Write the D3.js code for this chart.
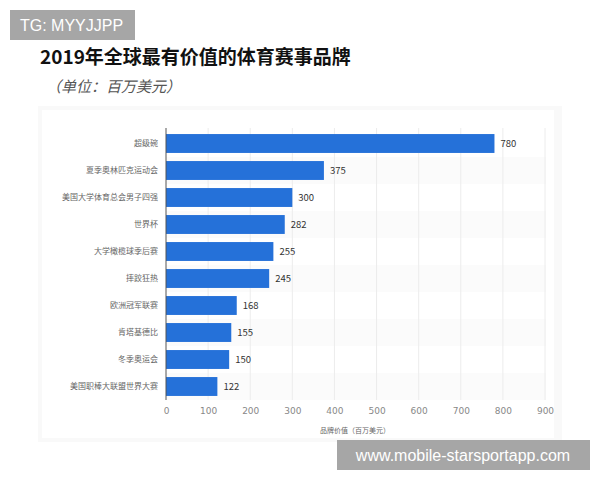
<!DOCTYPE html>
<html>
<head>
<meta charset="utf-8">
<script src="https://cdn.jsdelivr.net/npm/d3@7"></script>
<style>
body { margin: 0; background: #fff; }
svg { font-family: "Noto Sans CJK SC", "Noto Sans", sans-serif; }
</style>
</head>
<body>
<svg id="chart" width="600" height="480"></svg>
<script>
var events = ["超级碗", "夏季奥林匹克运动会", "美国大学体育总会男子四强", "世界杯", "大学橄榄球季后赛",
  "摔跤狂热", "欧洲冠军联赛", "肯塔基德比", "冬季奥运会", "美国职棒大联盟世界大赛"];
var values = [780, 375, 300, 282, 255, 245, 168, 155, 150, 122];
var ticks = [0, 100, 200, 300, 400, 500, 600, 700, 800, 900];

var svg = d3.select("#chart");

// card behind the chart
svg.append("rect").attr("x", 38).attr("y", 106).attr("width", 524).attr("height", 336)
  .attr("fill", "#f9f9f9");
svg.append("rect").attr("x", 42).attr("y", 110).attr("width", 512).attr("height", 328)
  .attr("fill", "#fff");

var x = d3.scaleLinear().domain([0, 900]).range([166, 545]);
var y = d3.scaleBand().domain(events).range([130, 400]).paddingInner(0.3).paddingOuter(0.15);

// faint row stripes
svg.selectAll(".stripe").data(events.filter(function(d, i) { return i % 2 == 1; }))
  .enter().append("rect")
  .attr("x", 166).attr("width", 380)
  .attr("y", function(d) { return y(d) - y.step() * 0.15; })
  .attr("height", y.step()).attr("fill", "#fbfbfb");

// grid
svg.selectAll(".grid").data(ticks.slice(1)).enter().append("line")
  .attr("x1", function(d) { return x(d); }).attr("x2", function(d) { return x(d); })
  .attr("y1", 128).attr("y2", 400).attr("stroke", "#ececec").attr("stroke-width", 1);

// bars
svg.selectAll(".bar").data(values).enter().append("rect")
  .attr("x", x(0))
  .attr("y", function(d, i) { return y(events[i]); })
  .attr("width", function(d) { return x(d) - x(0); })
  .attr("height", y.bandwidth())
  .attr("fill", "#2571d9");

svg.selectAll(".val").data(values).enter().append("text")
  .attr("x", function(d) { return x(d) + 6; })
  .attr("y", function(d, i) { return y(events[i]) + y.bandwidth() / 2; })
  .attr("dy", "0.35em")
  .attr("font-size", 9.5).attr("fill", "#333")
  .text(function(d) { return d; });

// y axis
var yAxis = svg.append("g").attr("transform", "translate(166,0)")
  .call(d3.axisLeft(y).tickSize(0).tickPadding(8));
yAxis.select(".domain").attr("stroke", "#555").attr("d", "M0,128V400");
yAxis.selectAll("text").attr("font-size", 8).attr("fill", "#666")
  .attr("font-family", "Noto Sans CJK SC");

// x axis
var xAxis = svg.append("g").attr("transform", "translate(0,400)")
  .call(d3.axisBottom(x).tickValues(ticks).tickSize(0).tickPadding(8));
xAxis.select(".domain").remove();
xAxis.selectAll("text").attr("font-size", 9).attr("fill", "#888")
  .attr("font-family", "DejaVu Sans");

svg.append("text").attr("x", 355).attr("y", 433).attr("text-anchor", "middle")
  .attr("font-size", 7).attr("fill", "#666").text("品牌价值（百万美元）");

// title
svg.append("text").attr("x", 40).attr("y", 64).attr("font-size", 19).attr("font-weight", "bold")
  .attr("fill", "#111").text("2019年全球最有价值的体育赛事品牌");
svg.append("text").attr("x", 46).attr("y", 92).attr("font-size", 15).attr("font-style", "italic")
  .attr("fill", "#555").text("（单位：百万美元）");

// watermarks
svg.append("rect").attr("x", 10).attr("y", 10).attr("width", 125).attr("height", 30).attr("fill", "#a6a6a6");
svg.append("text").attr("x", 20).attr("y", 31).attr("font-size", 16).attr("fill", "#fff")
  .attr("font-family", "Liberation Sans").text("TG: MYYJJPP");
svg.append("rect").attr("x", 337).attr("y", 440).attr("width", 253).attr("height", 30).attr("fill", "#a6a6a6");
svg.append("text").attr("x", 463).attr("y", 461).attr("text-anchor", "middle").attr("font-size", 16)
  .attr("fill", "#fff").attr("font-family", "Liberation Sans").text("www.mobile-starsportapp.com");
</script>
</body>
</html>
